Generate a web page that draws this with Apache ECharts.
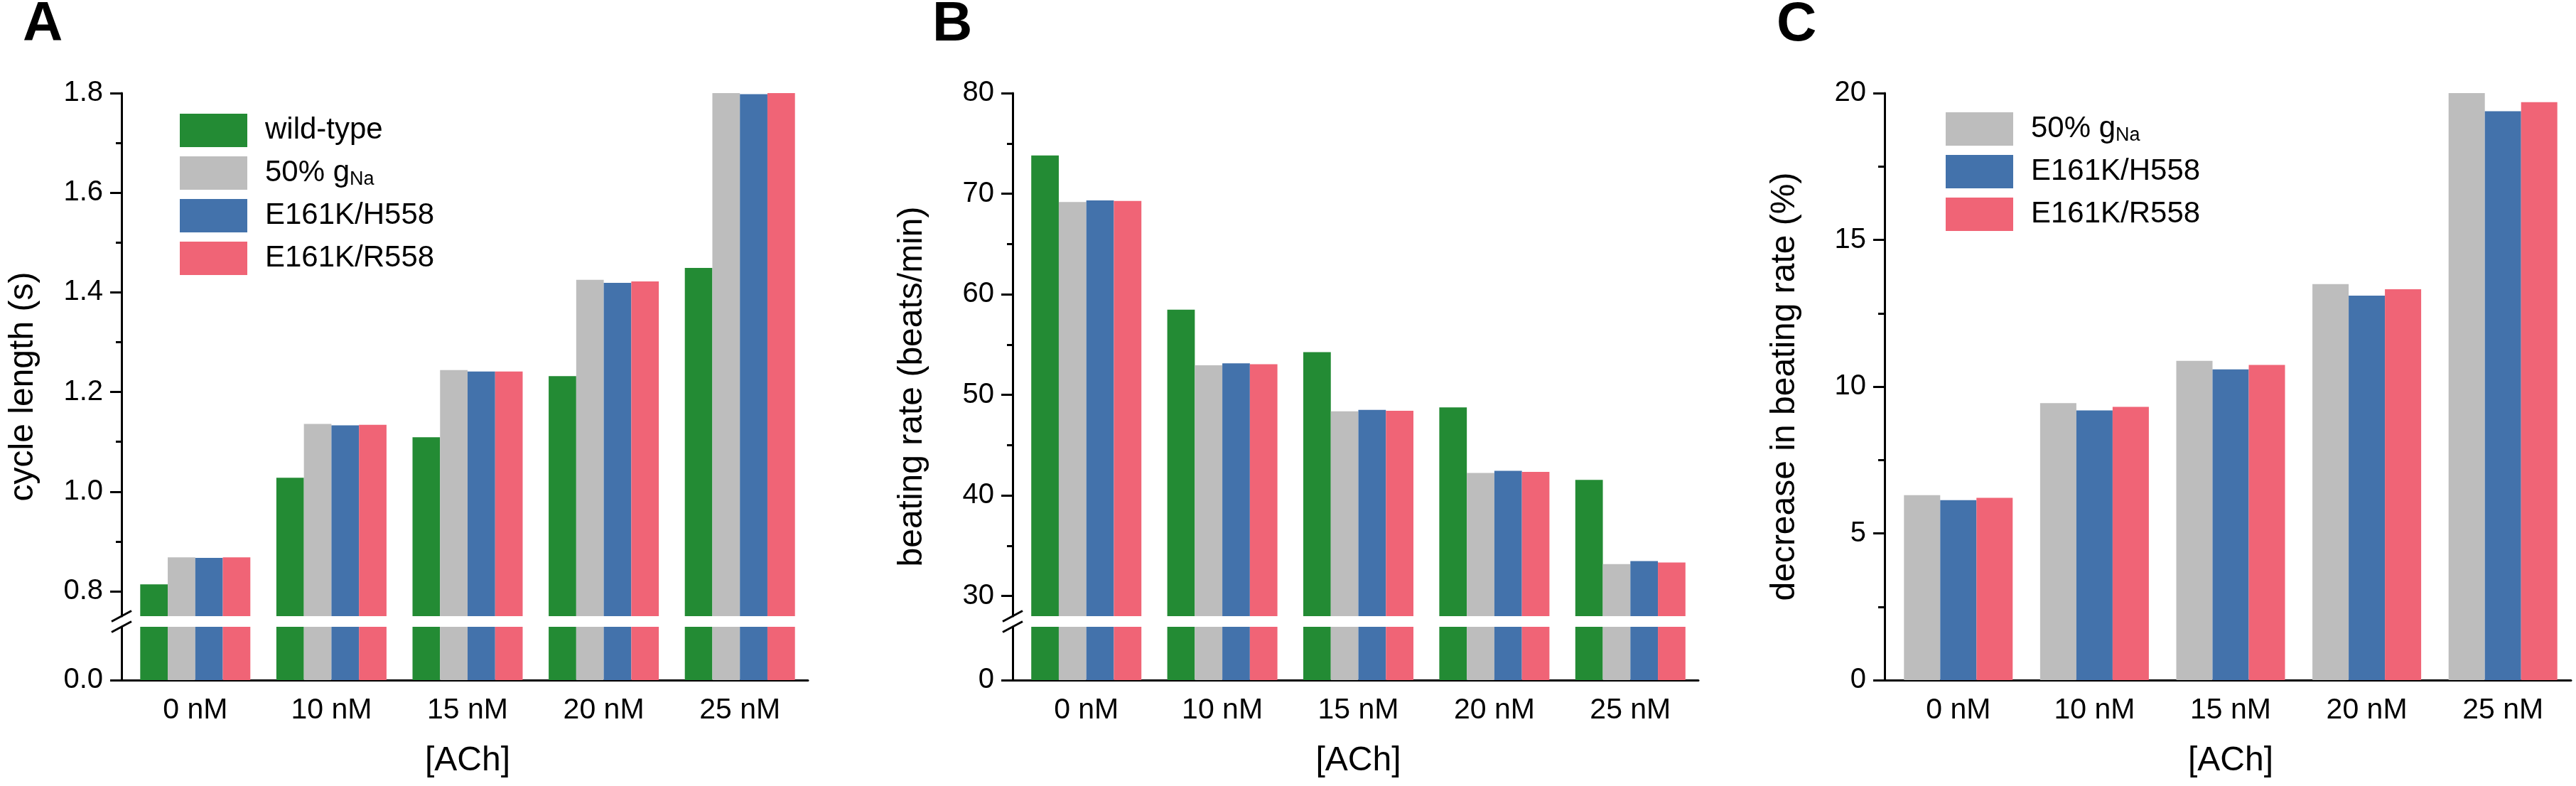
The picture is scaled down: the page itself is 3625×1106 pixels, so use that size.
<!DOCTYPE html>
<html>
<head>
<meta charset="utf-8">
<script src="https://cdn.jsdelivr.net/npm/echarts@6/dist/echarts.min.js"></script>
<style>
html,body{margin:0;padding:0;background:#fff;}
#c{width:3625px;height:1106px;}
</style>
</head>
<body>
<div id="c"></div>
<script>
// ---------------- data ----------------
const categories = ['0 nM', '10 nM', '15 nM', '20 nM', '25 nM'];
const seriesNames = ['wild-type', '50% gNa', 'E161K/H558', 'E161K/R558'];

// Panel A: cycle length (s)
const cycleWT   = [0.814, 1.028, 1.109, 1.232, 1.449];
const cycleHalf = [0.868, 1.136, 1.244, 1.425, 1.800];
const cycleH558 = [0.867, 1.133, 1.241, 1.419, 1.798];
const cycleR558 = [0.868, 1.134, 1.241, 1.422, 1.800];

// Panel B: beating rate (beats/min)
const rateWT   = [73.8, 58.47, 54.24, 48.76, 41.54];
const rateHalf = [69.18, 52.94, 48.36, 42.24, 33.18];
const rateH558 = [69.33, 53.14, 48.51, 42.44, 33.47];
const rateR558 = [69.28, 53.04, 48.41, 42.34, 33.33];

// Panel C: decrease in beating rate (%)
const decHalf = [6.30, 9.44, 10.88, 13.49, 20.0];
const decH558 = [6.13, 9.19, 10.59, 13.10, 19.38];
const decR558 = [6.21, 9.31, 10.74, 13.32, 19.69];

// tick labels
const cycleTicks = [0.8, 1.0, 1.2, 1.4, 1.6, 1.8];
const cycleMinor = [0.9, 1.1, 1.3, 1.5, 1.7];
const rateTicks  = [30, 40, 50, 60, 70, 80];
const rateMinor  = [35, 45, 55, 65, 75];
const decTicks   = [0, 5, 10, 15, 20];
const decMinor   = [2.5, 7.5, 12.5, 17.5];

// ---------------- styles / layout ----------------
const COLORS = {'wild-type': '#238B34', '50% gNa': '#BDBDBD', 'E161K/H558': '#4372AB', 'E161K/R558': '#F06476'};
const FONT = '"Liberation Sans", Arial, Helvetica, sans-serif';
const TOP = 131, BOTTOM = 957, BREAK_HI = 867, BREAK_LO = 882;
const OFF = 8;
const panels = [
  {axisX: 171,  right: 1137, letter: 'A', letterX: 32,   titleX: 33,   title: 'cycle length (s)'},
  {axisX: 1425, right: 2390, letter: 'B', letterX: 1312, titleX: 1284, title: 'beating rate (beats/min)'},
  {axisX: 2652, right: 3618, letter: 'C', letterX: 2500, titleX: 2512, title: 'decrease in beating rate (%)'}
];

const LINE = {color: '#000', width: 3};
const grid = [], xAxis = [], yAxis = [], series = [];

function addGrid(p, top, bottom) {
  grid.push({left: p.axisX + OFF, top: top, width: p.right - p.axisX - OFF, height: bottom - top,
             containLabel: false, outerBoundsMode: 'none'});
  return grid.length - 1;
}
function addX(gi, visible) {
  xAxis.push({
    gridIndex: gi, type: 'category', data: categories, show: visible,
    axisLine: {show: true, onZero: false, lineStyle: LINE},
    axisTick: {show: false},
    axisLabel: {show: true, color: '#000', fontSize: 41, fontFamily: FONT, margin: 22},
    splitLine: {show: false},
    name: visible ? '[ACh]' : '', nameLocation: 'middle', nameGap: 90,
    nameTextStyle: {fontSize: 48, color: '#000', fontFamily: FONT}
  });
  return xAxis.length - 1;
}
function addY(gi, min, max, opts) {
  yAxis.push(Object.assign({
    gridIndex: gi, type: 'value', position: 'left', offset: OFF, min: min, max: max,
    axisLine: {show: true, onZero: false, lineStyle: LINE},
    splitLine: {show: false}
  }, opts));
  return yAxis.length - 1;
}
function majorY(gi, min, max, ticks, fmt) {
  return addY(gi, min, max, {
    axisTick: {show: true, length: 16, lineStyle: LINE, customValues: ticks},
    axisLabel: {show: true, customValues: ticks, formatter: fmt, color: '#000', fontSize: 40, fontFamily: FONT, margin: 26}
  });
}
function minorY(gi, min, max, ticks, inside, len) {
  return addY(gi, min, max, {
    axisLine: {show: false},
    axisTick: {show: true, inside: inside, length: len, lineStyle: LINE, customValues: ticks},
    axisLabel: {show: false}
  });
}
function addBars(name, data, xi, yi, width) {
  series.push({
    type: 'bar', name: name, data: data, xAxisIndex: xi, yAxisIndex: yi,
    barWidth: width, barGap: '0%', clip: true,
    itemStyle: {color: COLORS[name], borderWidth: 0},
    emphasis: {disabled: true}, animation: false
  });
}

const fmt1 = v => Number(v).toFixed(1);
const fmt0 = v => String(Math.round(v));

// ---- panel A (broken axis) ----
{
  const p = panels[0];
  const gU = addGrid(p, TOP, BREAK_HI), gL = addGrid(p, BREAK_LO, BOTTOM);
  const xU = addX(gU, false), xL = addX(gL, true);
  const yU = majorY(gU, 0.75, 1.8, cycleTicks, fmt1); minorY(gU, 0.75, 1.8, cycleMinor, false, 8);
  const yL = majorY(gL, 0, 0.1, [0], fmt1); minorY(gL, 0, 0.1, [0], true, OFF);
  const sets = [cycleWT, cycleHalf, cycleH558, cycleR558];
  seriesNames.forEach((n, i) => { addBars(n, sets[i], xU, yU, 38.75); addBars(n, sets[i], xL, yL, 38.75); });
}
// ---- panel B (broken axis) ----
{
  const p = panels[1];
  const gU = addGrid(p, TOP, BREAK_HI), gL = addGrid(p, BREAK_LO, BOTTOM);
  const xU = addX(gU, false), xL = addX(gL, true);
  const yU = majorY(gU, 28, 80, rateTicks, fmt0); minorY(gU, 28, 80, rateMinor, false, 8);
  const yL = majorY(gL, 0, 5, [0], fmt0); minorY(gL, 0, 5, [0], true, OFF);
  const sets = [rateWT, rateHalf, rateH558, rateR558];
  seriesNames.forEach((n, i) => { addBars(n, sets[i], xU, yU, 38.75); addBars(n, sets[i], xL, yL, 38.75); });
}
// ---- panel C ----
{
  const p = panels[2];
  const g = addGrid(p, TOP, BOTTOM);
  const x = addX(g, true);
  const y = majorY(g, 0, 20, decTicks, fmt0); minorY(g, 0, 20, decMinor, false, 9); minorY(g, 0, 20, [0], true, OFF);
  const sets = [decHalf, decH558, decR558];
  seriesNames.slice(1).forEach((n, i) => addBars(n, sets[i], x, y, 51));
}

// ---- legends ----
const legendBase = {
  orient: 'vertical', icon: 'rect', itemWidth: 95, itemHeight: 47, itemGap: 13, padding: 0,
  selectedMode: false,
  formatter: n => n === '50% gNa' ? '50% g{sub|Na}' : n,
  textStyle: {
    color: '#000', fontSize: 42, fontFamily: FONT, padding: [0, 0, 0, 20],
    rich: {sub: {fontSize: 27, fontFamily: FONT, color: '#000', padding: [18, 0, 0, 0]}}
  }
};
const legend = [
  Object.assign({}, legendBase, {left: 253, top: 160, data: seriesNames}),
  Object.assign({}, legendBase, {left: 2738, top: 158, data: seriesNames.slice(1)})
];

// ---- titles (panel letters) ----
const title = panels.map(p => ({
  text: p.letter, left: p.letterX, top: -4, padding: 0,
  textStyle: {fontSize: 78, fontWeight: 'bold', color: '#000', fontFamily: FONT}
}));

// ---- graphic: y-axis titles and axis-break marks ----
const graphic = [];
panels.forEach(p => {
  graphic.push({
    type: 'text', x: p.titleX, y: (TOP + BOTTOM) / 2, rotation: Math.PI / 2,
    style: {text: p.title, fill: '#000', font: '48px ' + FONT, align: 'center', verticalAlign: 'middle'}
  });
});
[panels[0], panels[1]].forEach(p => {
  [BREAK_HI, BREAK_LO].forEach(cy => {
    graphic.push({
      type: 'line', shape: {x1: p.axisX - 14, y1: cy + 7.5, x2: p.axisX + 14, y2: cy - 7.5},
      style: {stroke: '#000', lineWidth: 3}
    });
  });
});

const chart = echarts.init(document.getElementById('c'), null, {renderer: 'canvas'});
chart.setOption({
  backgroundColor: '#fff',
  animation: false,
  title: title,
  legend: legend,
  grid: grid,
  xAxis: xAxis,
  yAxis: yAxis,
  series: series,
  graphic: graphic
});
</script>
</body>
</html>
